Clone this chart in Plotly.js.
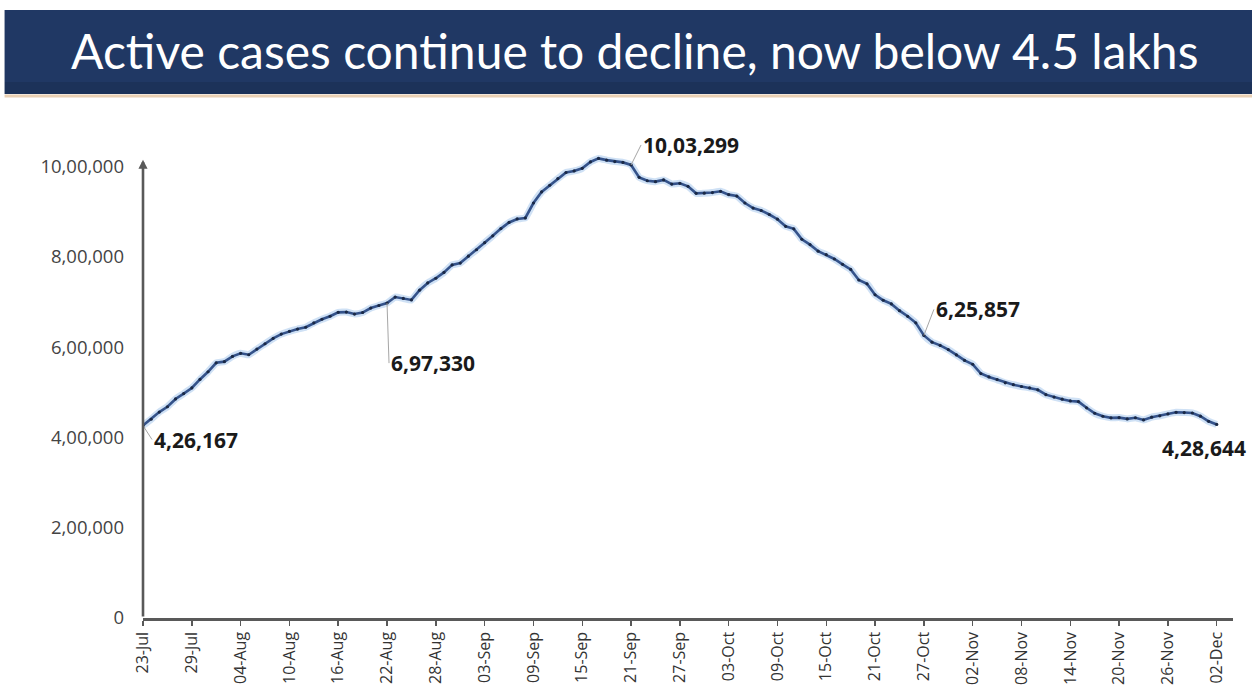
<!DOCTYPE html>
<html>
<head>
<meta charset="utf-8">
<script src="https://cdn.plot.ly/plotly-3.0.1.min.js"></script>
<style>
  html, body { margin: 0; padding: 0; background: #ffffff; }
  #chart { width: 1252px; height: 691px; }
</style>
</head>
<body>
<div id="chart"></div>
<script>
// ---- Data ----
const startDate = '2020-07-23';
const activeCases = [
  426167, 440135, 456071, 467882, 485114, 496988, 509447, 528242, 545318, 565103,
  567730, 579357, 586244, 583000, 595501, 607384, 619088, 628747, 634945, 639929,
  643948, 653622, 661595, 668220, 676900, 677444, 673166, 676514, 686395, 692028,
  697330, 710771, 707668, 704348, 725991, 742023, 752424, 765302, 781975, 785996,
  801282, 815538, 831124, 846395, 862320, 876000, 883697, 886000, 919018, 943480,
  958316, 973175, 986598, 990061, 995933, 1009976, 1017754, 1013964, 1010824, 1009000,
  1003299, 975861, 968377, 966382, 970116, 960969, 962640, 956000, 940441, 940705,
  942217, 944996, 937625, 934427, 919023, 907883, 902425, 893592, 883185, 867496,
  861853, 838729, 826876, 812390, 804528, 795087, 783311, 772055, 748538, 740090,
  715812, 703687, 695509, 680680, 668154, 653717, 625857, 610803, 603687, 594386,
  582649, 570458, 561908, 541405, 533787, 527962, 520773, 516632, 512665, 509673,
  505265, 494657, 489294, 484547, 480719, 479216, 465478, 453401, 446805, 443303,
  443794, 440962, 443486, 438667, 444746, 447803, 452000, 455555, 454940, 453956,
  446952, 435603, 428644
];
const tickDates = ['2020-07-23','2020-07-29','2020-08-04','2020-08-10','2020-08-16','2020-08-22',
  '2020-08-28','2020-09-03','2020-09-09','2020-09-15','2020-09-21','2020-09-27','2020-10-03',
  '2020-10-09','2020-10-15','2020-10-21','2020-10-27','2020-11-02','2020-11-08','2020-11-14',
  '2020-11-20','2020-11-26','2020-12-02'];
const tickLabels = ['23-Jul','29-Jul','04-Aug','10-Aug','16-Aug','22-Aug','28-Aug','03-Sep',
  '09-Sep','15-Sep','21-Sep','27-Sep','03-Oct','09-Oct','15-Oct','21-Oct','27-Oct','02-Nov',
  '08-Nov','14-Nov','20-Nov','26-Nov','02-Dec'];
const yTickVals = [0, 200000, 400000, 600000, 800000, 1000000];
const yTickText = ['0', '2,00,000', '4,00,000', '6,00,000', '8,00,000', '10,00,000'];
const labelDates = ['2020-07-23', '2020-08-22', '2020-09-21', '2020-10-27', '2020-12-02'];
const labelTexts = ['4,26,167', '6,97,330', '10,03,299', '6,25,857', '4,28,644'];
const titleText = 'Active cases continue to decline, now below 4.5 lakhs';

// build daily date list for the series
const dates = [];
{
  const d0 = new Date(startDate + 'T00:00:00Z');
  for (let i = 0; i < activeCases.length; i++) {
    const d = new Date(d0.getTime() + i * 86400000);
    dates.push(d.toISOString().slice(0, 10));
  }
}
function valueAt(dateStr) { return activeCases[dates.indexOf(dateStr)]; }

const halo = {
  x: dates, y: activeCases, type: 'scatter', mode: 'lines',
  line: { color: 'rgba(160,195,235,0.5)', width: 7, shape: 'spline', smoothing: 0.4 },
  hoverinfo: 'skip', showlegend: false
};
const main = {
  x: dates, y: activeCases, type: 'scatter', mode: 'lines+markers',
  line: { color: '#34528a', width: 2.6 },
  marker: { color: '#1a2946', size: 3.2 },
  showlegend: false
};

// data label annotations (offsets in pixels)
const labelOffsets = [[9, 14], [2, 60], [10, -20], [10, -26], null];
const annotations = labelDates.map((d, i) => {
  const base = {
    x: d, y: valueAt(d), xref: 'x', yref: 'y',
    text: '<b>' + labelTexts[i] + '</b>',
    font: { family: 'Open Sans, sans-serif', size: 21, color: '#1a1a1a' },
    xanchor: 'left', yanchor: 'middle'
  };
  const off = labelOffsets[i];
  if (off) {
    return Object.assign(base, {
      showarrow: true, arrowhead: 0, arrowwidth: 1, arrowcolor: '#a6a6a6',
      ax: off[0], ay: off[1]
    });
  }
  return Object.assign(base, { showarrow: false, xshift: -57, yshift: -24 });
});
// y-axis line with arrow head
annotations.push({
  x: startDate, y: 1015000, xref: 'x', yref: 'y',
  ax: startDate, ay: 0, axref: 'x', ayref: 'y',
  text: '', showarrow: true, arrowhead: 2, arrowsize: 0.7,
  arrowwidth: 2.6, arrowcolor: '#595959', standoff: 0
});

const layout = {
  width: 1252, height: 691,
  paper_bgcolor: '#ffffff', plot_bgcolor: '#ffffff',
  margin: { l: 143, r: 19, t: 152, b: 73 },
  title: {
    text: titleText,
    font: { family: 'Lato, sans-serif', size: 48, color: '#ffffff' },
    x: 0.507, xanchor: 'center', xref: 'container',
    y: 1 - 52 / 691, yanchor: 'middle', yref: 'container'
  },
  xaxis: {
    type: 'date',
    range: ['2020-07-23', '2020-12-04'],
    tickvals: tickDates, ticktext: tickLabels,
    tickangle: -90,
    tickfont: { family: 'Open Sans, sans-serif', size: 16, color: '#333333' },
    showline: true, linecolor: '#595959', linewidth: 2.5,
    ticks: 'outside', ticklen: 5, tickwidth: 1.5, tickcolor: '#595959',
    showgrid: false, zeroline: false, fixedrange: true
  },
  yaxis: {
    range: [0, 1032000],
    tickvals: yTickVals, ticktext: yTickText,
    tickfont: { family: 'Open Sans, sans-serif', size: 18.5, color: '#444444' },
    ticks: '', ticklabelstandoff: 18,
    showline: false, showgrid: false, zeroline: false, fixedrange: true
  },
  shapes: [
    // title banner
    { type: 'rect', xref: 'paper', yref: 'paper',
      x0: -0.127, x1: 1.05, y0: (618 - 82) / 466, y1: (618 - 10) / 466,
      fillcolor: '#203864', line: { width: 0 } },
    { type: 'rect', xref: 'paper', yref: 'paper',
      x0: -0.127, x1: 1.05, y0: (618 - 94) / 466, y1: (618 - 82) / 466,
      fillcolor: '#1c3259', line: { width: 0 } },
    { type: 'line', xref: 'paper', yref: 'paper',
      x0: -0.127, x1: 1.05, y0: (618 - 96) / 466, y1: (618 - 96) / 466,
      line: { color: '#ead0b3', width: 3 } }
  ],
  annotations: annotations,
  showlegend: false
};

Plotly.newPlot('chart', [halo, main], layout, { displayModeBar: false, staticPlot: true });
</script>
</body>
</html>
